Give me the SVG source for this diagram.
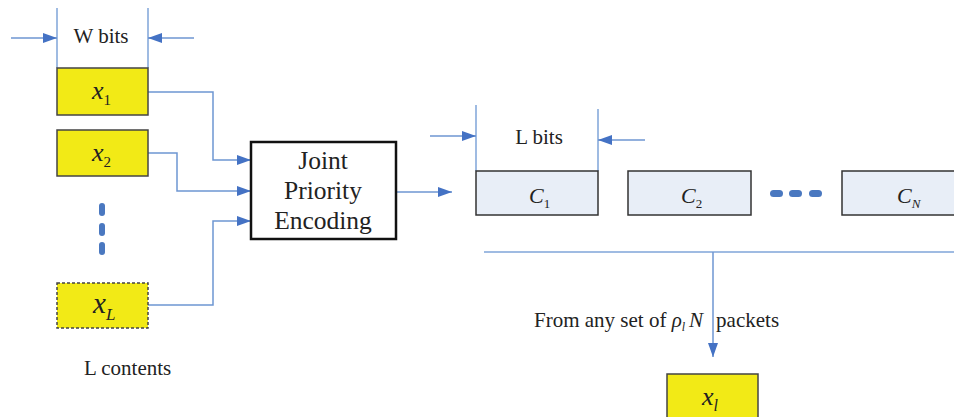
<svg xmlns="http://www.w3.org/2000/svg" width="954" height="417" viewBox="0 0 954 417">
<defs>
<marker id="ah" viewBox="0 0 14 10" refX="14" refY="5" markerWidth="14" markerHeight="10" markerUnits="userSpaceOnUse" orient="auto">
<path d="M0,0 L14,5 L0,10 Z" fill="#4472c4"/>
</marker>
<style>
.ln{stroke:#7fa4d9;stroke-width:1.5;fill:none}
.arr{stroke:#6e96d2;stroke-width:1.5;fill:none;marker-end:url(#ah)}
.ybox{fill:#f2ea16;stroke:#444;stroke-width:1.5}
.cbox{fill:#e8eef7;stroke:#333;stroke-width:1.5}
.t{fill:#222}
.m{font-style:italic;fill:#222}
.dot{fill:#4a78c0}
</style>
</defs>
<rect width="954" height="417" fill="#fff"/>
<g id="connectors">
<line class="ln" x1="57" y1="8" x2="57" y2="68"/>
<line class="ln" x1="148" y1="8" x2="148" y2="68"/>
<line class="arr" x1="11" y1="38" x2="57" y2="38"/>
<line class="arr" x1="194" y1="38" x2="148" y2="38"/>
<polyline class="arr" points="148,92 213,92 213,160 251,160"/>
<polyline class="arr" points="148,153 177,153 177,191 251,191"/>
<polyline class="arr" points="148,305 213,305 213,221 251,221"/>
<line class="arr" x1="396" y1="192" x2="452" y2="192"/>
<line class="ln" x1="476" y1="105" x2="476" y2="171"/>
<line class="ln" x1="598" y1="109" x2="598" y2="171"/>
<line class="arr" x1="430" y1="136" x2="476" y2="136"/>
<line class="arr" x1="645" y1="140" x2="598" y2="140"/>
<line class="ln" x1="484" y1="252" x2="954" y2="252"/>
<line class="arr" x1="713" y1="252" x2="713" y2="357"/>
</g>
<g font-family="'Liberation Serif', 'Times New Roman', serif">
<g id="wbits"><text class="t" x="101" y="43" font-size="21" text-anchor="middle">W bits</text></g>
<g id="x1"><rect class="ybox" x="57" y="68" width="91" height="47"/><text class="m" x="92" y="99" font-size="26">x<tspan font-size="15" font-style="normal" dy="6">1</tspan></text></g>
<g id="x2"><rect class="ybox" x="57" y="130" width="91" height="46"/><text class="m" x="92" y="161" font-size="26">x<tspan font-size="15" font-style="normal" dy="6">2</tspan></text></g>
<g id="vdots"><rect class="dot" x="99" y="203" width="6" height="13" rx="3"/><rect class="dot" x="99" y="223" width="6" height="13" rx="3"/><rect class="dot" x="99" y="242" width="6" height="13" rx="3"/></g>
<g id="xL"><rect class="ybox" x="57" y="283" width="91" height="45" stroke-dasharray="3,2"/><text class="m" x="93" y="313" font-size="29">x<tspan font-size="17" dy="7">L</tspan></text></g>
<g id="lcontents"><text class="t" x="84" y="375" font-size="21">L contents</text></g>
<g id="jpe"><rect x="251" y="142" width="145" height="97" fill="#fff" stroke="#111" stroke-width="2.5"/>
<text class="t" x="323" y="169" font-size="25.5" text-anchor="middle">Joint</text>
<text class="t" x="323" y="199" font-size="25.5" text-anchor="middle">Priority</text>
<text class="t" x="323" y="229" font-size="25.5" text-anchor="middle">Encoding</text></g>
<g id="lbits"><text class="t" x="539" y="144" font-size="21" text-anchor="middle">L bits</text></g>
<g id="c1"><rect class="cbox" x="476" y="171" width="122" height="44"/><text class="m" x="529" y="203" font-size="22">C<tspan font-size="13" font-style="normal" dy="5">1</tspan></text></g>
<g id="c2"><rect class="cbox" x="628" y="171" width="123" height="44"/><text class="m" x="681" y="203" font-size="22">C<tspan font-size="13" font-style="normal" dy="5">2</tspan></text></g>
<g id="hdots"><rect class="dot" x="770" y="190" width="13" height="7" rx="3.5"/><rect class="dot" x="789" y="190" width="13" height="7" rx="3.5"/><rect class="dot" x="809" y="190" width="13" height="7" rx="3.5"/></g>
<g id="cN"><rect class="cbox" x="842" y="171" width="120" height="44"/><text class="m" x="897" y="203" font-size="22">C<tspan font-size="13" dy="5">N</tspan></text></g>
<g id="label"><text class="t" x="534" y="327" font-size="21">From any set of <tspan font-style="italic">ρ</tspan><tspan font-style="italic" font-size="12" dy="4">l</tspan><tspan font-style="italic" dy="-4" dx="4">N</tspan><tspan dx="13">packets</tspan></text></g>
<g id="xl"><rect class="ybox" x="667" y="374" width="91" height="50"/><text class="m" x="702" y="405" font-size="26">x<tspan font-size="16" dy="6">l</tspan></text></g>
</g>
</svg>
